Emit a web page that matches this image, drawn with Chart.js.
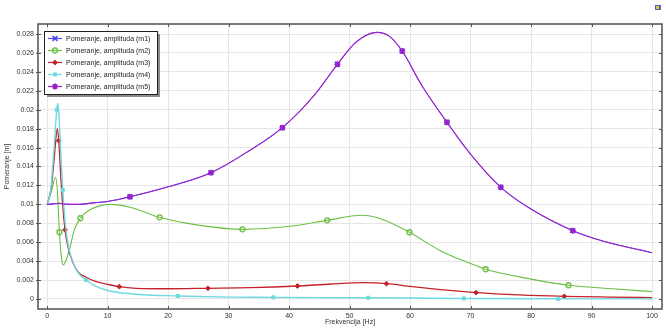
<!DOCTYPE html>
<html>
<head>
<meta charset="utf-8">
<script src="https://cdn.jsdelivr.net/npm/chart.js@4.4.1/dist/chart.umd.min.js"></script>
<style>
  html, body { margin: 0; padding: 0; background: #fff; }
  #wrap { width: 666px; height: 330px; }
</style>
</head>
<body>
<div id="wrap"><canvas id="chart" width="666" height="330"></canvas></div>
<script>
// values
var xTicks = [0, 10, 20, 30, 40, 50, 60, 70, 80, 90, 100];
var yTicks = [0, 0.002, 0.004, 0.006, 0.008, 0.01, 0.012, 0.014, 0.016, 0.018, 0.02, 0.022, 0.024, 0.026, 0.028];
var seriesNames = ['Pomeranje, amplituda (m1)', 'Pomeranje, amplituda (m2)', 'Pomeranje, amplituda (m3)',
    'Pomeranje, amplituda (m4)', 'Pomeranje, amplituda (m5)'];

// m1 lies under m5 (same values)
var m5Freq = [0, 1, 2, 3, 5, 8, 10, 13.7, 20, 27.1, 33, 38.9, 44, 48, 51, 54.5, 56.5, 58.7, 62, 66.1, 70, 75, 80, 86.9, 92, 100];
var m5Vals = [0.0100, 0.01005, 0.0101, 0.01002, 0.0100, 0.01018, 0.0103, 0.0108, 0.01185, 0.01335, 0.0155, 0.0181, 0.0214, 0.0248, 0.0271, 0.02818, 0.0278, 0.0262, 0.0225, 0.01867, 0.0153, 0.0118, 0.0095, 0.00722, 0.0061, 0.00489];
var m5Marks = [13.7, 27.1, 38.9, 48, 58.7, 66.1, 75, 86.9];

var m2Freq = [0, 0.7, 1.38, 1.7, 2.04, 2.35, 2.7, 3.2, 3.7, 4.5, 5.5, 7, 10.5, 14, 18.6, 25, 32.3, 40.2, 46.3, 52, 55, 59.9, 65, 69.9, 72.5, 80, 86.2, 93, 100];
var m2Vals = [0.0100, 0.0113, 0.01286, 0.0115, 0.00705, 0.0045, 0.0036, 0.0042, 0.0052, 0.0073, 0.00853, 0.0094, 0.0100, 0.00965, 0.00863, 0.0078, 0.00736, 0.00768, 0.00831, 0.00884, 0.0085, 0.00705, 0.0051, 0.00377, 0.00314, 0.0021, 0.00145, 0.0011, 0.00078];
var m2Marks = [2.04, 5.5, 18.6, 32.3, 46.3, 59.9, 72.5, 86.2];

var m3Freq = [0, 0.7, 1.2, 1.7, 1.93, 2.4, 2.97, 3.5, 4, 5.07, 6.45, 8, 10, 11.95, 14.7, 20, 26.6, 33.6, 41.4, 47, 52.3, 56.1, 60, 65, 70.9, 78, 85.5, 93, 100];
var m3Vals = [0.0100, 0.0118, 0.0150, 0.0180, 0.01673, 0.0115, 0.0073, 0.0054, 0.0043, 0.00289, 0.0023, 0.00185, 0.00155, 0.0013, 0.00113, 0.00108, 0.00113, 0.00119, 0.00137, 0.00158, 0.00172, 0.00162, 0.00133, 0.00098, 0.00067, 0.00043, 0.00028, 0.0002, 0.00014];
var m3Marks = [1.93, 2.97, 11.95, 26.6, 41.4, 56.1, 70.9, 85.5];

var m4Freq = [0, 0.6, 1.1, 1.6, 1.77, 2.0, 2.3, 2.6, 3.0, 3.5, 4.0, 5.0, 6.45, 8, 10, 14.7, 21.6, 30, 37.4, 45, 53.1, 60, 68.9, 84.5, 100];
var m4Vals = [0.0100, 0.0115, 0.0155, 0.0200, 0.0207, 0.0190, 0.0150, 0.0115, 0.0080, 0.0057, 0.0044, 0.0029, 0.0020, 0.00135, 0.0009, 0.0005, 0.00032, 0.0002, 0.00017, 0.00014, 0.00013, 0.0001, 0.00005, 0.00002, 0.00001];
var m4Marks = [1.6, 2.6, 6.45, 21.6, 37.4, 53.1, 68.9, 84.5];

var FONT = '"Liberation Sans", Arial, sans-serif';

function pts(freq, vals) {
    var out = [];
    for (var i = 0; i < freq.length; i++) out.push({ x: freq[i], y: vals[i] });
    return out;
}

function makeSet(idx, freq, vals, marks, color, style, radius, bw, fill, lw) {
    return {
        label: seriesNames[idx],
        data: pts(freq, vals),
        borderColor: color,
        borderWidth: lw,
        cubicInterpolationMode: 'monotone',
        pointStyle: style,
        pointBorderColor: color,
        pointBackgroundColor: fill,
        pointBorderWidth: bw,
        pointRadius: function(ctx) {
            return marks.indexOf(ctx.raw && ctx.raw.x) >= 0 ? radius : 0;
        },
        pointHoverRadius: 0,
        order: 5 - idx,
        markRadius: radius
    };
}

var datasets = [
    makeSet(0, m5Freq, m5Vals, m5Marks, '#4a4af2', 'crossRot', 3.4, 1.6, '#4a4af2', 1),
    makeSet(1, m2Freq, m2Vals, m2Marks, '#6cbf45', 'circle', 2.5, 1.3, 'rgba(255,255,255,0)', 1.1),
    makeSet(2, m3Freq, m3Vals, m3Marks, '#c4232b', 'rectRot', 2.4, 1, '#c4232b', 1.3),
    makeSet(3, m4Freq, m4Vals, m4Marks, '#6ed9e0', 'rect', 2.2, 1, '#6ed9e0', 1.4),
    makeSet(4, m5Freq, m5Vals, m5Marks, '#9a22cc', 'star', 3, 1.6, '#9a22cc', 1.1)
];

var framePlugin = {
    id: 'frame',
    afterDraw: function(chart) {
        var c = chart.ctx, a = chart.chartArea;
        var xs = chart.scales.x, ys = chart.scales.y;
        c.save();
        c.strokeStyle = '#555';
        c.lineWidth = 1;
        xTicks.forEach(function(v) {
            var px = Math.round(xs.getPixelForValue(v)) + 0.5;
            c.beginPath();
            c.moveTo(px, a.bottom); c.lineTo(px, a.bottom - 3);
            c.moveTo(px, a.top); c.lineTo(px, a.top + 3);
            c.stroke();
        });
        yTicks.forEach(function(v) {
            var py = Math.round(ys.getPixelForValue(v)) + 0.5;
            c.beginPath();
            c.moveTo(a.left - 2, py); c.lineTo(a.left + 3, py);
            c.moveTo(a.right, py); c.lineTo(a.right - 3, py);
            c.stroke();
        });
        c.lineWidth = 1.5;
        c.strokeStyle = '#505050';
        c.strokeRect(a.left, a.top, a.right - a.left, a.bottom - a.top);

        // legend
        var lx = 44, ly = 31, lw = 113, lh = 63;
        c.fillStyle = '#8a8a8a';
        c.fillRect(lx + 3, ly + 3, lw, lh);
        c.fillStyle = '#fff';
        c.fillRect(lx, ly, lw, lh);
        c.lineWidth = 1;
        c.strokeStyle = '#222';
        c.strokeRect(lx + 0.5, ly + 0.5, lw, lh);
        c.font = '7px ' + FONT;
        c.textBaseline = 'middle';
        c.textAlign = 'left';
        chart.data.datasets.forEach(function(ds, i) {
            var y = ly + 7.5 + i * 12;
            c.strokeStyle = ds.borderColor;
            c.lineWidth = 1.2;
            c.beginPath();
            c.moveTo(lx + 4, y); c.lineTo(lx + 18, y);
            c.stroke();
            c.lineWidth = ds.pointBorderWidth;
            c.fillStyle = ds.pointBackgroundColor;
            Chart.helpers.drawPoint(c, { pointStyle: ds.pointStyle, radius: ds.markRadius, borderWidth: ds.pointBorderWidth }, lx + 11, y);
            c.fillStyle = '#222';
            c.fillText(ds.label, lx + 22, y + 0.5);
        });

        // small toolbar icon, top right
        c.fillStyle = '#3a6fc8';
        c.fillRect(655, 5, 6, 5);
        c.fillStyle = '#f0c030';
        c.fillRect(656, 6, 3, 3);
        c.restore();
    }
};

new Chart(document.getElementById('chart'), {
    type: 'line',
    data: { datasets: datasets },
    options: {
        responsive: false,
        animation: false,
        events: [],
        layout: { padding: { left: 0, top: 24, right: 4, bottom: 0 } },
        plugins: { legend: { display: false }, tooltip: { enabled: false } },
        scales: {
            x: {
                type: 'linear',
                min: -1.5,
                max: 101.65,
                afterBuildTicks: function(s) { s.ticks = xTicks.map(function(v) { return { value: v }; }); },
                afterFit: function(s) { s.height = 21; },
                grid: { color: '#e6e6e6', drawTicks: false },
                border: { display: false },
                ticks: { padding: 3, color: '#333', font: { size: 7, family: FONT }, maxRotation: 0,
                    callback: function(v) { return String(v); } },
                title: { display: true, text: 'Frekvencija [Hz]', color: '#333', font: { size: 7, family: FONT },
                    padding: { top: 0, bottom: 4 } }
            },
            y: {
                type: 'linear',
                min: -0.00106,
                max: 0.02906,
                afterBuildTicks: function(s) { s.ticks = yTicks.map(function(v) { return { value: v }; }); },
                afterFit: function(s) { s.width = 38; },
                grid: { color: '#e6e6e6', drawTicks: false },
                border: { display: false },
                ticks: { padding: 4, color: '#333', font: { size: 7, family: FONT },
                    callback: function(v) { return String(+v.toFixed(3)); } },
                title: { display: true, text: 'Pomeranje [m]', color: '#333', font: { size: 7, family: FONT },
                    padding: { top: 3, bottom: 0 } }
            }
        }
    },
    plugins: [framePlugin]
});
</script>
</body>
</html>
